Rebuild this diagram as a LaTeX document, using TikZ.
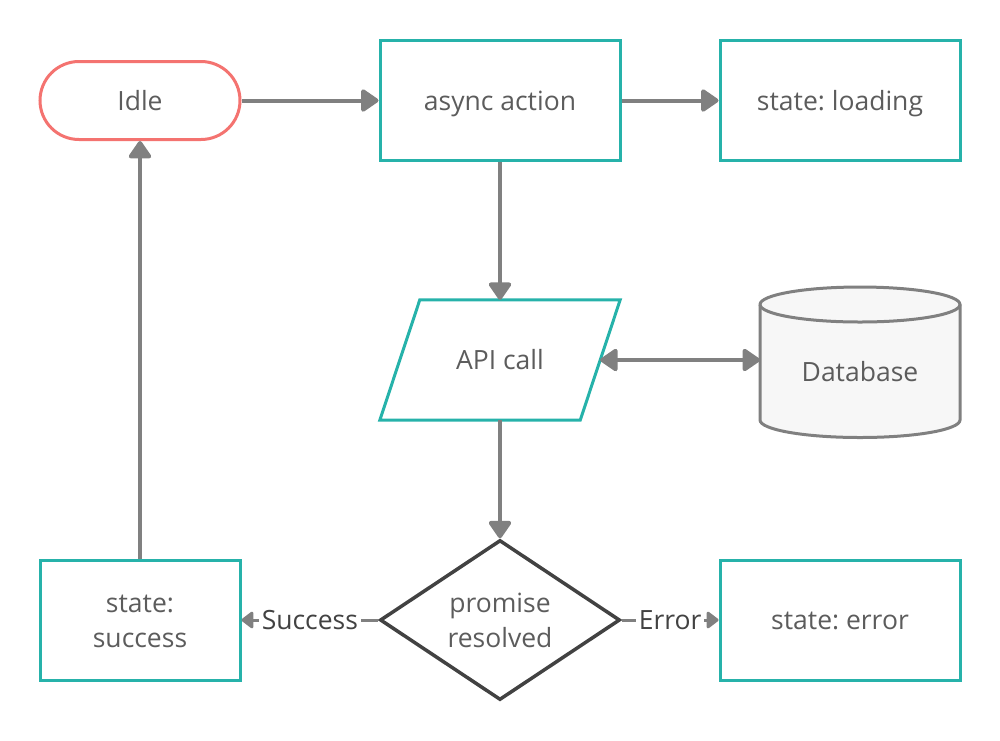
\documentclass[tikz,border=0pt]{standalone}
\usepackage{fontspec}
\setmainfont{Open Sans}
\usetikzlibrary{shapes.geometric,shapes.misc,arrows.meta}
\definecolor{teal}{RGB}{38,178,170}
\definecolor{salmon}{RGB}{244,115,112}
\definecolor{conn}{RGB}{128,128,128}
\definecolor{dark}{RGB}{66,66,66}
\definecolor{txt}{RGB}{92,92,92}
\definecolor{dbfill}{RGB}{247,247,247}
\tikzset{
  base/.style={font=\fontsize{26.5}{35}\selectfont\frenchspacing, text=txt, align=center, inner sep=0pt, text height=19pt, text depth=0pt},
  twoline/.style={text height=54pt, text depth=0pt},
  box/.style={base, draw=teal, line width=3pt, rectangle, minimum width=240pt, minimum height=120pt},
  conn/.style={draw=conn, line width=4pt, -{Triangle[length=19pt,width=25pt,round]}},
  smallconn/.style={draw=conn, line width=3pt, -{Triangle[length=13pt,width=19pt,round]}},
  lbl/.style={font=\fontsize{26.5}{34}\selectfont, text=dark, fill=white, inner sep=3pt, text height=19pt, text depth=0pt}
}
\begin{document}
\begin{tikzpicture}[x=1pt,y=-1pt]
\useasboundingbox (0,0) rectangle (1000,740);
% nodes
\node[base, rounded rectangle, draw=salmon, line width=3pt, minimum width=200pt, minimum height=78pt] (idle) at (140,100.5) {Idle};
\node[box] (async) at (500,100.5) {async action};
\node[box] (loading) at (840,100.5) {state: loading};
\node[base, rectangle, minimum width=200pt, minimum height=120pt] (api) at (500,360) {API call};
\draw[teal, line width=3pt] ([xshift=20pt]api.north west) -- ([xshift=20pt]api.north east)
  -- ([xshift=-20pt]api.south east) -- ([xshift=-20pt]api.south west) -- cycle;
% database
\draw[draw=conn, fill=dbfill, line width=3pt]
  (760,304.5) -- (760,420) arc[start angle=180, end angle=0, x radius=100, y radius=17.5]
  -- (960,304.5) arc[start angle=0, end angle=-180, x radius=100, y radius=17.5] -- cycle;
\draw[draw=conn, line width=3pt] (760,304.5) arc[start angle=180, end angle=0, x radius=100, y radius=17.5];
\coordinate (dbw) at (760,360);
\node[base] (db) at (860,372) {Database};
\node[base, twoline, diamond, draw=dark, line width=3.5pt, minimum width=240pt, minimum height=160pt, aspect=1.5] (prom) at (500,620) {promise\\resolved};
\node[box, twoline, minimum width=200pt] (succ) at (140,620) {state:\\success};
\node[box] (err) at (840,620) {state: error};
% connectors
\draw[conn] (idle.east) -- (async.west);
\draw[conn] (async.east) -- (loading.west);
\draw[conn] (async.south) -- (api.north);
\draw[draw=conn, line width=4pt, {Triangle[length=19pt,width=25pt,round]}-{Triangle[length=19pt,width=25pt,round]}] (api.east) -- (dbw);
\draw[conn] (api.south) -- (prom.north);
\draw[smallconn] (prom.west) -- node[lbl] {Success} (succ.east);
\draw[smallconn] (prom.east) -- node[lbl] {Error} (err.west);
\draw[conn] (succ.north) -- (idle.south);
\end{tikzpicture}
\end{document}
